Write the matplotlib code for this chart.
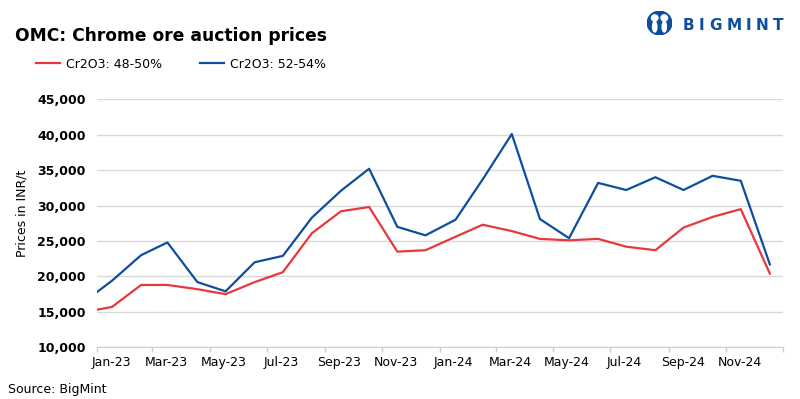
import matplotlib
matplotlib.use('Agg')
import matplotlib.pyplot as plt
import matplotlib.dates as mdates
from matplotlib.patches import Circle, Ellipse
import pandas as pd

# auction dates (first point sits on the axis start)
dates = ['2023-01-01', '2023-01-17', '2023-02-17', '2023-03-17', '2023-04-18',
         '2023-05-18', '2023-06-18', '2023-07-18', '2023-08-18', '2023-09-18',
         '2023-10-18', '2023-11-17', '2023-12-17', '2024-01-18', '2024-02-16',
         '2024-03-18', '2024-04-17', '2024-05-18', '2024-06-18', '2024-07-18',
         '2024-08-18', '2024-09-17', '2024-10-18', '2024-11-17', '2024-12-18']
cr_48_50 = [15300, 15700, 18800, 18800, 18200, 17500, 19200, 20600, 26100,
            29200, 29800, 23500, 23700, 25600, 27300, 26400, 25300, 25100,
            25300, 24200, 23700, 26900, 28400, 29500, 20400]
cr_52_54 = [17800, 19400, 23000, 24800, 19200, 17900, 22000, 22900, 28300,
            32100, 35200, 27000, 25800, 28000, 33700, 40100, 28100, 25400,
            33200, 32200, 34000, 32200, 34200, 33500, 21700]
series_labels = ['Cr2O3: 48-50%', 'Cr2O3: 52-54%']
y_ticks = [10000, 15000, 20000, 25000, 30000, 35000, 40000, 45000]

RED = '#e8383d'
BLUE = '#0d4f9e'
GRID = '#d9d9d9'

x = pd.to_datetime(dates)

fig = plt.figure(figsize=(8, 3.99), dpi=100)
ax = fig.add_axes([97 / 800, 1 - 347.3 / 399, 686 / 800, 248 / 399])

ax.plot(x, cr_48_50, color=RED, lw=1.6, label=series_labels[0])
ax.plot(x, cr_52_54, color=BLUE, lw=1.6, label=series_labels[1])

ax.set_xlim(pd.Timestamp('2023-01-01'), pd.Timestamp('2025-01-01'))
ax.set_ylim(y_ticks[0], y_ticks[-1])
ax.set_yticks(y_ticks)
ax.set_yticklabels([f'{v:,}' for v in y_ticks], fontweight='bold', fontsize=9)
ax.tick_params(axis='y', length=0, pad=8)
ax.grid(axis='y', color=GRID, lw=1)
ax.set_axisbelow(True)

# tick marks on month boundaries, labels centred in the month
ax.xaxis.set_major_locator(mdates.MonthLocator(bymonth=range(1, 13, 2)))
ax.xaxis.set_major_formatter(plt.NullFormatter())
ax.xaxis.set_minor_locator(mdates.MonthLocator(bymonth=range(1, 13, 2),
                                               bymonthday=16))
ax.xaxis.set_minor_formatter(mdates.DateFormatter('%b-%y'))
ax.tick_params(axis='x', which='major', length=3.5, color='#cccccc', width=1)
ax.tick_params(axis='x', which='minor', length=0, pad=6, labelsize=9)

for side in ['left', 'right', 'top']:
    ax.spines[side].set_visible(False)
ax.spines['bottom'].set_color('#cccccc')

fig.text(15 / 800, 1 - 41 / 399, 'OMC: Chrome ore auction prices',
         fontsize=12.3, fontweight='bold', va='baseline')
fig.legend(loc='center left', bbox_to_anchor=(36 / 800, 1 - 64 / 399),
           ncol=2, frameon=False, fontsize=9, handlelength=1.95,
           handletextpad=0.45, columnspacing=3.0, borderpad=0,
           borderaxespad=0)
fig.text(22 / 800, 1 - 213 / 399, 'Prices in INR/t', rotation=90,
         ha='center', va='center', fontsize=9)
fig.text(8 / 800, 1 - 393 / 399, 'Source: BigMint', fontsize=9,
         va='baseline')

# logo
lax = fig.add_axes([647 / 800, 1 - 35 / 399, 25 / 800, 24 / 399])
lax.set_xlim(-1, 1)
lax.set_ylim(-1, 1)
lax.axis('off')
lax.add_patch(Circle((0, 0), 0.98, color=BLUE))
lax.add_patch(Circle((-0.38, 0.42), 0.26, color='white'))
lax.add_patch(Circle((0.38, 0.42), 0.26, color='white'))
lax.add_patch(Ellipse((-0.38, -0.3), 0.34, 0.9, color='white'))
lax.add_patch(Ellipse((0.38, -0.3), 0.34, 0.9, color='white'))
lax.add_patch(Circle((0, 0.05), 0.16, color=BLUE))

letters = 'BIGMINT'
fig.canvas.draw()
renderer = fig.canvas.get_renderer()
pos = 683
for ch in letters:
    t = fig.text(pos / 800, 1 - 30 / 399, ch, fontsize=11, fontweight='bold',
                 color=BLUE, va='baseline')
    pos += t.get_window_extent(renderer).width + 4.5

fig.savefig('out.png', dpi=100)
